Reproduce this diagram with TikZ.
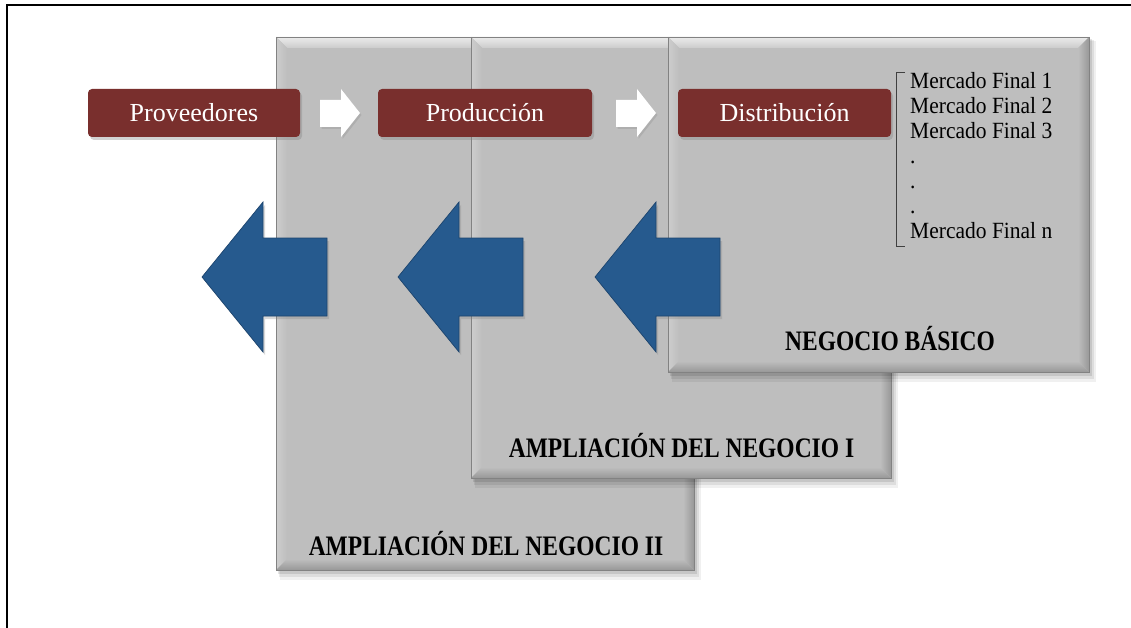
\documentclass[tikz,border=0pt]{standalone}
\usepackage{graphicx}
\usepackage{fontspec}
\setmainfont{Liberation Serif}
\usetikzlibrary{shadows,calc}
\definecolor{panelgray}{RGB}{190,190,190}
\definecolor{panellight}{RGB}{235,235,235}
\definecolor{panelleft}{RGB}{205,205,205}
\definecolor{paneldark}{RGB}{152,152,152}
\definecolor{paneledge}{RGB}{130,130,130}
\definecolor{boxred}{RGB}{121,47,45}
\definecolor{arrowblue}{RGB}{38,90,142}
\definecolor{arrowedge}{RGB}{28,68,110}
\tikzset{
  panel/.style={fill=panelgray, inner sep=0pt, outer sep=0pt, anchor=north west},
  redbox/.style={fill=boxred, rounded corners=4pt, minimum width=212pt, minimum height=48pt,
    inner sep=0pt, text=white, text height=18pt, text depth=0pt,
    font=\fontsize{26}{30}\selectfont,
    drop shadow={opacity=0.35, shadow xshift=2pt, shadow yshift=-3pt}},
  panellabel/.style={anchor=base, inner sep=0pt, font=\fontsize{23.5}{28}\selectfont\bfseries},
  listtext/.style={anchor=base west, inner sep=0pt, font=\fontsize{21.5}{25}\selectfont},
  whitearrow/.style={fill=white, drop shadow={opacity=0.25, shadow xshift=1.5pt, shadow yshift=-2pt}},
  bluearrow/.style={fill=arrowblue, draw=arrowedge, line width=0.7pt,
    drop shadow={opacity=0.3, shadow xshift=2pt, shadow yshift=-3pt}},
}
\newcommand{\mkpanel}[5]{%
  \fill[black,opacity=0.06] (#2+4,#3+4) rectangle (#4+7,#5+10);
  \fill[black,opacity=0.08] (#2+3,#3+3) rectangle (#4+5,#5+7);
  \fill[black,opacity=0.10] (#2+2,#3+2) rectangle (#4+3,#5+4);
  \node[panel, minimum width={(#4-#2)*1pt}, minimum height={(#5-#3)*1pt}] (#1) at (#2,#3) {};
  \shade[top color=panellight, bottom color=panelgray!70!panellight]
    (#1.north west) -- (#1.north east) -- ($(#1.north east)+(-11,11)$) -- ($(#1.north west)+(11,11)$) -- cycle;
  \shade[left color=panelleft, right color=panelgray]
    (#1.north west) -- ($(#1.north west)+(11,11)$) -- ($(#1.south west)+(11,-11)$) -- (#1.south west) -- cycle;
  \shade[left color=panelgray, right color=paneldark]
    (#1.north east) -- (#1.south east) -- ($(#1.south east)+(-11,-11)$) -- ($(#1.north east)+(-11,11)$) -- cycle;
  \shade[top color=panelgray, bottom color=paneldark]
    (#1.south west) -- ($(#1.south west)+(11,-11)$) -- ($(#1.south east)+(-11,-11)$) -- (#1.south east) -- cycle;
  \draw[paneledge, line width=0.8pt] (#1.north west) rectangle (#1.south east);
}
\newcommand{\mkblue}[1]{%
  \path[bluearrow] (#1,277) -- (#1+61,202) -- (#1+61,238) -- (#1+125,238) -- (#1+125,316)
    -- (#1+61,316) -- (#1+61,352) -- cycle;
}
\newcommand{\mkwhite}[1]{%
  \path[whitearrow] (#1,100) -- (#1+21,100) -- (#1+21,89) -- (#1+40,113) -- (#1+21,137)
    -- (#1+21,127) -- (#1,127) -- cycle;
}
\newcommand{\tallbf}[1]{\scalebox{1}[1.2]{#1}}
\newcommand{\tallrm}[1]{\scalebox{1}[1.08]{#1}}
\begin{document}
\begin{tikzpicture}[x=1pt,y=-1pt]
\useasboundingbox (0,0) rectangle (1131,628);
\fill[white] (0,0) rectangle (1131,628);
\draw[line width=1.6pt] (7,628) -- (7,5) -- (1131,5);

% panels
\mkpanel{p2}{276}{37}{694}{570}
\mkpanel{p1}{471}{37}{891}{478}
\mkpanel{p0}{668}{37}{1089}{372}

\node[panellabel] (l2) at (486,555) {\tallbf{AMPLIACIÓN DEL NEGOCIO II}};
\node[panellabel] (l1) at (681.5,457) {\tallbf{AMPLIACIÓN DEL NEGOCIO I}};
\node[panellabel] (l0) at (890,350) {\tallbf{NEGOCIO BÁSICO}};

% white arrows
\mkwhite{320}
\mkwhite{616}

% red boxes
\node[redbox] (prov) at (194,113) {Proveedores};
\node[redbox, minimum width=214pt] (prod) at (485,113) {Producción};
\node[redbox, minimum width=213pt] (dist) at (784.5,113) {Distribución};

% list
\draw[black!75, line width=0.8pt] (905,72) -- (896,72) -- (896,246) -- (905,246);
\foreach \t [count=\i] in {Mercado Final 1, Mercado Final 2, Mercado Final 3, ., ., ., Mercado Final n}
  \node[listtext] (m\i) at (910, 89+25*\i-25) {\tallrm{\t}};

% blue arrows
\mkblue{202}
\mkblue{398}
\mkblue{595}
\end{tikzpicture}
\end{document}
